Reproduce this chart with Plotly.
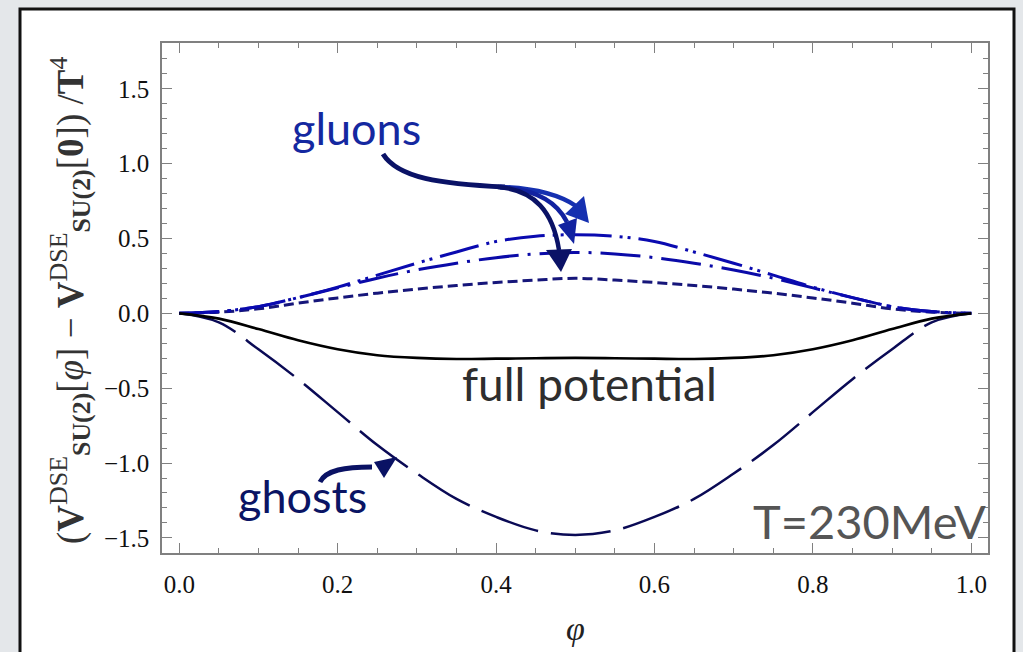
import plotly.graph_objects as go

# ---------------- data ----------------
phi = [0.00, 0.05, 0.10, 0.15, 0.20, 0.25, 0.30, 0.35, 0.40, 0.45, 0.50,
       0.55, 0.60, 0.65, 0.70, 0.75, 0.80, 0.85, 0.90, 0.95, 1.00]

full_potential = [0.0, -0.035, -0.105, -0.18, -0.24, -0.28, -0.298, -0.305, -0.303, -0.300, -0.298,
                  -0.300, -0.303, -0.305, -0.298, -0.28, -0.24, -0.18, -0.105, -0.035, 0.0]
ghosts = [0.0, -0.06, -0.24, -0.44, -0.66, -0.88, -1.07, -1.24, -1.36, -1.45, -1.48,
          -1.45, -1.36, -1.24, -1.07, -0.88, -0.66, -0.44, -0.24, -0.06, 0.0]
gluons_dashed = [0.0, 0.008, 0.03, 0.068, 0.103, 0.135, 0.162, 0.186, 0.206, 0.222, 0.234,
                 0.222, 0.206, 0.186, 0.162, 0.135, 0.103, 0.068, 0.03, 0.008, 0.0]
gluons_dashdot = [0.0, 0.012, 0.045, 0.105, 0.17, 0.235, 0.29, 0.335, 0.372, 0.397, 0.407,
                  0.397, 0.372, 0.335, 0.29, 0.235, 0.17, 0.105, 0.045, 0.012, 0.0]
gluons_dashdotdot = [0.0, 0.012, 0.045, 0.105, 0.175, 0.255, 0.335, 0.41, 0.48, 0.515, 0.525,
                     0.515, 0.48, 0.41, 0.335, 0.255, 0.175, 0.105, 0.045, 0.012, 0.0]

x_ticks = [0.0, 0.2, 0.4, 0.6, 0.8, 1.0]
y_ticks = [-1.5, -1.0, -0.5, 0.0, 0.5, 1.0, 1.5]

# ---------------- layout geometry ----------------
W, H = 1023, 652
ML, MR, MT, MB = 162, 35, 43, 99
X0, X1 = -0.0218, 1.0211
Y0, Y1 = -1.601, 1.806
PW, PH = W - ML - MR, H - MT - MB


def d(px, py):
    """pixel position -> data coordinates (for decorative arrows/labels only)"""
    return (X0 + (px - ML) / PW * (X1 - X0), Y1 - (py - MT) / PH * (Y1 - Y0))


def path(*pts):
    conv = [d(*p) for p in pts]
    s = "M {:.5f},{:.5f}".format(*conv[0])
    rest = conv[1:]
    for i in range(0, len(rest), 3):
        s += " C " + " ".join("{:.5f},{:.5f}".format(*q) for q in rest[i:i + 3])
    return s


def tri(a, b, c):
    pa, pb, pc = d(*a), d(*b), d(*c)
    return "M {:.5f},{:.5f} L {:.5f},{:.5f} L {:.5f},{:.5f} Z".format(*pa, *pb, *pc)


fig = go.Figure()

fig.add_trace(go.Scatter(x=phi, y=ghosts, mode="lines", line_shape="spline",
                         line=dict(color="#0a0a55", width=2.5, dash="60px,13px"), name="ghosts"))
fig.add_trace(go.Scatter(x=phi, y=gluons_dashed, mode="lines", line_shape="spline",
                         line=dict(color="#16167a", width=3, dash="10px,5px"), name="gluons 1"))
fig.add_trace(go.Scatter(x=phi, y=gluons_dashdot, mode="lines", line_shape="spline",
                         line=dict(color="#0a0aa8", width=3, dash="40px,9px,3px,9px"), name="gluons 2"))
fig.add_trace(go.Scatter(x=phi, y=gluons_dashdotdot, mode="lines", line_shape="spline",
                         line=dict(color="#0a0ab0", width=3, dash="40px,8px,3px,5px,3px,8px"), name="gluons 3"))
fig.add_trace(go.Scatter(x=phi, y=full_potential, mode="lines", line_shape="spline",
                         line=dict(color="#000000", width=2.7), name="full potential"))

shapes = []
# white frame on grey background
shapes.append(dict(type="rect", xref="paper", yref="paper", layer="below",
                   x0=(20 - ML) / PW, x1=(1014 - ML) / PW,
                   y0=(H - MB - 700) / PH, y1=(H - MB - 9) / PH,
                   fillcolor="white", line=dict(color="#111111", width=3)))

# gluon arrows
shapes.append(dict(type="path", xref="x", yref="y", layer="above",
                   path=path((383, 154), (398, 178), (440, 184), (505, 187)),
                   line=dict(color="#0a1266", width=5)))
shapes.append(dict(type="path", xref="x", yref="y",
                   path=path((500, 187), (535, 188), (558, 194), (576, 206)),
                   line=dict(color="#1530b0", width=4.5)))
shapes.append(dict(type="path", xref="x", yref="y",
                   path=path((500, 187), (532, 189), (556, 200), (567, 222)),
                   line=dict(color="#1222a0", width=4.5)))
shapes.append(dict(type="path", xref="x", yref="y",
                   path=path((498, 187), (535, 190), (553, 212), (559, 250)),
                   line=dict(color="#0a1266", width=4.5)))
shapes.append(dict(type="path", xref="x", yref="y", path=tri((584, 196), (565, 214), (589, 223)),
                   fillcolor="#1530b0", line=dict(width=0)))
shapes.append(dict(type="path", xref="x", yref="y", path=tri((577, 218), (558, 225), (574, 244)),
                   fillcolor="#1222a0", line=dict(width=0)))
shapes.append(dict(type="path", xref="x", yref="y", path=tri((546, 250), (572, 249), (561, 272)),
                   fillcolor="#0a1266", line=dict(width=0)))
# ghost arrow
shapes.append(dict(type="path", xref="x", yref="y",
                   path=path((320, 482), (326, 470), (345, 467), (372, 467)),
                   line=dict(color="#0a1264", width=5)))
shapes.append(dict(type="path", xref="x", yref="y", path=tri((374, 462), (384, 478), (397, 457)),
                   fillcolor="#0a1264", line=dict(width=0)))

annotations = [
    dict(text="gluons", x=d(356, 128)[0], y=d(356, 128)[1], xref="x", yref="y", showarrow=False,
         font=dict(family="Lato", size=45, color="#1428a0"), xanchor="center", yanchor="middle"),
    dict(text="ghosts", x=d(302, 496)[0], y=d(302, 496)[1], xref="x", yref="y", showarrow=False,
         font=dict(family="Lato", size=45, color="#0a1464"), xanchor="center", yanchor="middle"),
    dict(text="full potential", x=d(589, 383)[0], y=d(589, 383)[1], xref="x", yref="y", showarrow=False,
         font=dict(family="Lato", size=46, color="#2e2e2e"), xanchor="center", yanchor="middle"),
    dict(text="T=230MeV", x=d(988, 521)[0], y=d(988, 521)[1], xref="x", yref="y", showarrow=False,
         font=dict(family="Lato", size=47, color="#555555"), xanchor="right", yanchor="middle"),
    dict(text="<i>φ</i>", x=0.5, y=(H - MB - 628) / PH, xref="paper", yref="paper", showarrow=False,
         font=dict(family="Liberation Serif", size=34, color="#222222"), xanchor="center", yanchor="middle"),
    dict(text="(<b>V</b><sup>DSE</sup><sub><b>SU(2)</b></sub>[<i>φ</i>] − "
              "<b>V</b><sup>DSE</sup><sub><b>SU(2)</b></sub>[<b>0</b>]) /<b>T</b><sup>4</sup>",
         x=(70 - ML) / PW, y=(H - MB - 301) / PH, xref="paper", yref="paper", showarrow=False,
         textangle=-90, font=dict(family="Liberation Serif", size=37, color="#333333"),
         xanchor="center", yanchor="middle"),
]

axis_common = dict(showgrid=False, zeroline=False, showline=True, linecolor="#808080", linewidth=1.5,
                   mirror="ticks", ticks="inside", ticklen=10, tickwidth=1.2, tickcolor="#808080",
                   tickfont=dict(family="Liberation Serif", size=25, color="#111111"),
                   tickformat=".1f")

fig.update_layout(
    width=W, height=H, autosize=False,
    margin=dict(l=ML, r=MR, t=MT, b=MB, pad=0),
    paper_bgcolor="#e4e7ea", plot_bgcolor="rgba(0,0,0,0)",
    showlegend=False,
    shapes=shapes, annotations=annotations,
    xaxis=dict(range=[X0, X1], tickvals=x_ticks, ticklabelstandoff=8,
               minor=dict(dtick=0.05, tick0=0, ticks="inside", ticklen=5, tickcolor="#808080", tickwidth=1),
               **axis_common),
    yaxis=dict(range=[Y0, Y1], tickvals=y_ticks, ticklabelstandoff=6,
               minor=dict(dtick=0.1, tick0=0, ticks="inside", ticklen=5, tickcolor="#808080", tickwidth=1),
               **axis_common),
)

fig.write_html("out.html")
